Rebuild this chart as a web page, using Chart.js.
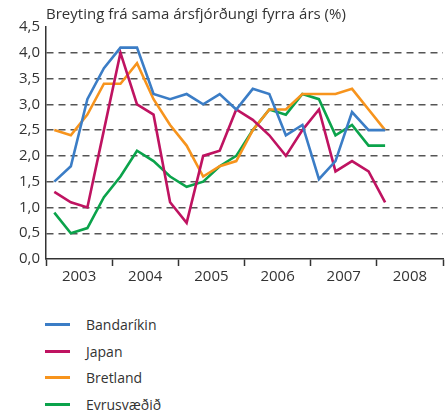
<!DOCTYPE html>
<html>
<head>
<meta charset="utf-8">
<script src="https://cdn.jsdelivr.net/npm/chart.js@4"></script>
<style>
  html, body { margin: 0; padding: 0; background: #fff; }
  #wrap { position: relative; width: 445px; height: 414px; }
  #box { position: absolute; left: 0; top: 0; width: 445px; height: 288px; }
  #legend { position: absolute; left: 45px; top: 311px; font-family: "Open Sans", sans-serif; font-size: 14px; color: #333; }
  .item { height: 26.7px; display: flex; align-items: center; }
  .item span.line { display: inline-block; width: 25px; height: 3px; margin-right: 16px; }
</style>
</head>
<body>
<div id="wrap">
  <div id="box"><canvas id="chart"></canvas></div>
  <div id="legend"></div>
</div>
<script>
// ársfjórðungar 2003 Á1 - 2008 Á1
const years = ["2003", "2004", "2005", "2006", "2007", "2008"];
const quarterCount = 24;

const bandarikin = [1.5, 1.8, 3.1, 3.7, 4.1, 4.1, 3.2, 3.1, 3.2, 3.0, 3.2, 2.9, 3.3, 3.2, 2.4, 2.6, 1.55, 1.9, 2.85, 2.5, 2.5];
const japan      = [1.3, 1.1, 1.0, 2.5, 4.0, 3.0, 2.8, 1.1, 0.7, 2.0, 2.1, 2.9, 2.7, 2.4, 2.0, 2.5, 2.9, 1.7, 1.9, 1.7, 1.1];
const bretland   = [2.5, 2.4, 2.8, 3.4, 3.4, 3.8, 3.1, 2.6, 2.2, 1.6, 1.8, 1.9, 2.5, 2.9, 2.9, 3.2, 3.2, 3.2, 3.3, 2.9, 2.5];
const evrusvaedid = [0.9, 0.5, 0.6, 1.2, 1.6, 2.1, 1.9, 1.6, 1.4, 1.5, 1.8, 2.0, 2.5, 2.9, 2.8, 3.2, 3.1, 2.4, 2.6, 2.2, 2.2];

const yTicks = [0, 0.5, 1, 1.5, 2, 2.5, 3, 3.5, 4, 4.5];

const series = [
  { label: "Bandaríkin", data: bandarikin, color: "#3b7dc6" },
  { label: "Japan", data: japan, color: "#bf1361" },
  { label: "Bretland", data: bretland, color: "#f7941d" },
  { label: "Evrusvæðið", data: evrusvaedid, color: "#0ba34b" }
];

// gildi sett í miðjan ársfjórðung
const toPoints = arr => arr.map((v, i) => ({ x: i + 0.5, y: v }));

const font = { family: "'Open Sans', sans-serif", size: 15 };

new Chart(document.getElementById("chart"), {
  type: "line",
  data: {
    datasets: series.map(s => ({
      label: s.label,
      data: toPoints(s.data),
      borderColor: s.color,
      backgroundColor: s.color,
      borderWidth: 2.6,
      pointRadius: 0,
      tension: 0,
      fill: false
    }))
  },
  options: {
    responsive: true,
    maintainAspectRatio: false,
    animation: false,
    layout: { padding: { left: 13, right: 1, top: 6, bottom: 0 } },
    plugins: {
      legend: { display: false },
      tooltip: { enabled: false },
      title: {
        display: true,
        text: "Breyting frá sama ársfjórðungi fyrra árs (%)",
        align: "start",
        fullSize: false,
        color: "#333",
        font: { family: font.family, size: 15, weight: "normal" },
        padding: { top: 0, bottom: 3 }
      }
    },
    scales: {
      x: {
        type: "linear",
        min: 0,
        max: quarterCount,
        grid: {
          drawOnChartArea: false,
          drawTicks: true,
          tickLength: 7,
          tickWidth: 1.5,
          tickColor: ctx => (ctx.tick && ctx.tick.value % 4 === 0) ? "#333" : "rgba(0,0,0,0)"
        },
        border: { display: true, color: "#333", width: 1.5 },
        ticks: {
          stepSize: 2,
          autoSkip: false,
          maxRotation: 0,
          color: "#333",
          font: font,
          padding: 2,
          callback: v => (v % 4 === 2) ? years[(v - 2) / 4] : ""
        }
      },
      y: {
        min: 0,
        max: 4.5,
        afterBuildTicks: axis => { axis.ticks = yTicks.map(v => ({ value: v })); },
        grid: {
          drawTicks: false,
          lineWidth: 1.4,
          color: ctx => (ctx.tick && ctx.tick.value > 0 && ctx.tick.value < 4.5) ? "#555" : "rgba(0,0,0,0)"
        },
        border: { display: true, color: "#333", width: 1.5, dash: [7, 5] },
        ticks: {
          color: "#333",
          font: font,
          padding: 6,
          callback: v => v.toFixed(1).replace(".", ",")
        }
      }
    }
  }
});

const legend = document.getElementById("legend");
series.forEach(s => {
  const div = document.createElement("div");
  div.className = "item";
  div.innerHTML = `<span class="line" style="background:${s.color}"></span><span>${s.label}</span>`;
  legend.appendChild(div);
});
</script>
</body>
</html>
